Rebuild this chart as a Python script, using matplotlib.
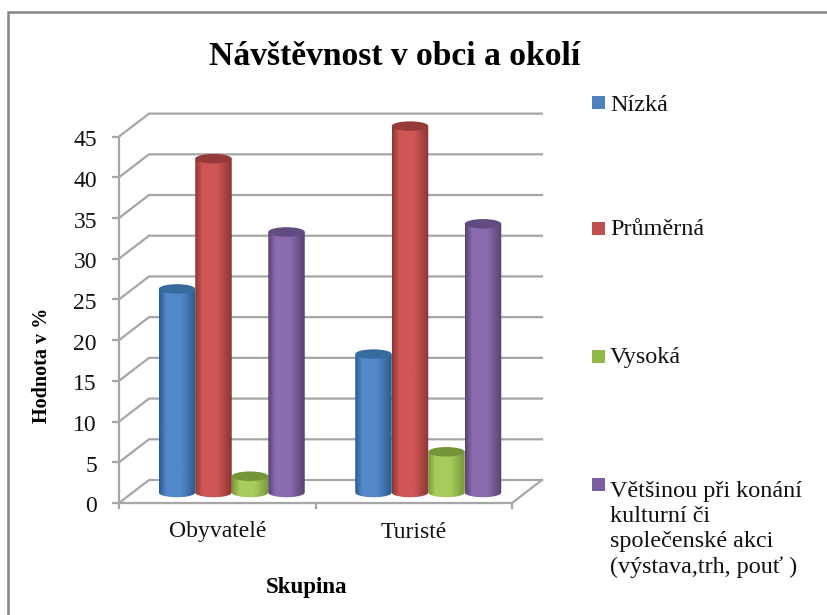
import numpy as np
import matplotlib
matplotlib.use("Agg")
import matplotlib.pyplot as plt
from matplotlib.patches import Ellipse, PathPatch, Rectangle
from matplotlib.path import Path
from matplotlib.colors import LinearSegmentedColormap

categories = ["Obyvatelé", "Turisté"]
series_names = ["Nízká", "Průměrná", "Vysoká",
                "Většinou při konání\nkulturní či\nspolečenské akci\n(výstava,trh, pouť )"]
nizka = [25, 17]
prumerna = [41, 45]
vysoka = [2, 5]
vetsinou = [32, 33]
series = [nizka, prumerna, vysoka, vetsinou]
y_ticks = [0, 5, 10, 15, 20, 25, 30, 35, 40, 45]

# edge, centre, top colours
palette = [("#2c5a8c", "#5289cb", "#376a9e"),
           ("#8a3634", "#cf5654", "#953a38"),
           ("#78973a", "#a9cc5e", "#76953a"),
           ("#57426f", "#8a6bb0", "#624b80")]
legend_colors = ["#4f81bd", "#c0504d", "#93b84a", "#7c5fa0"]

W, H = 827, 615
FONT = "Liberation Serif"
GRID = "#a6a6a6"
TXT = 17
fig = plt.figure(figsize=(W / 100, H / 100), dpi=100)
fig.patch.set_facecolor("white")

# the axes box is the front plane of the 3-D chart
ax = fig.add_axes([119 / W, 1 - 503 / H, (512 - 119) / W, (503 - 136.6) / H])
ax.set_xlim(0, 2)
ax.set_ylim(0, 45)
ax.axis("off")

px_x = 2 / (512 - 119)
px_y = 45 / (503 - 136.6)
depth_x = 30 * px_x
depth_y = 23 * px_y

# frame
fig.add_artist(Rectangle((7.5 / W, -0.01), (W - 2) / W, 1 - 11.5 / H + 0.01,
                         transform=fig.transFigure, fill=False, ec="#868686", lw=1.8))

# grid on the wall and the floor
LW = 1.6
for v in y_ticks:
    ax.plot([0, depth_x, 2 + depth_x], [v, v + depth_y, v + depth_y],
            color=GRID, lw=LW, clip_on=False, zorder=1, solid_joinstyle="miter")
    ax.plot([-6 * px_x, 0], [v, v], color=GRID, lw=LW, clip_on=False, zorder=1)
    ax.text(-22 * px_x, v - 1.5 * px_y, str(v), ha="right", va="center_baseline", family=FONT,
            fontsize=TXT, color="#111111")
ax.plot([0, 0], [0, 45], color=GRID, lw=LW, clip_on=False, zorder=1)
ax.plot([0, 2, 2 + depth_x], [0, 0, depth_y], color=GRID, lw=LW, clip_on=False,
        zorder=1, solid_joinstyle="miter")
for c in [0, 1, 2]:
    ax.plot([c, c], [0, -5 * px_y], color=GRID, lw=LW, clip_on=False, zorder=1)

# cylinders
bar_w = 36.5 * px_x
shift_x = 14.5 * px_x
base = 10.5 * px_y
ell_h = 9.5 * px_y
for i, (vals, (edge, centre, top)) in enumerate(zip(series, palette)):
    cmap = LinearSegmentedColormap.from_list(
        "c", [(0, edge), (0.2, centre), (0.6, centre), (1, edge)])
    for c, v in enumerate(vals):
        cx = c + 0.5 + shift_x + (i - 1.5) * bar_w
        x0, x1 = cx - bar_w / 2, cx + bar_w / 2
        y_top = base + v
        t = np.linspace(np.pi, 2 * np.pi, 40)
        xs = cx + bar_w / 2 * np.cos(t)
        ys = base + ell_h / 2 * np.sin(t)
        verts = [(x0, y_top)] + list(zip(xs, ys)) + [(x1, y_top), (x0, y_top)]
        zo = 3 + i
        im = ax.imshow(np.linspace(0, 1, 128)[None, :], cmap=cmap, aspect="auto",
                       extent=[x0, x1, 0, y_top], zorder=zo, interpolation="bilinear")
        patch = PathPatch(Path(verts), fc="none", ec="none", transform=ax.transData,
                          clip_on=False)
        ax.add_patch(patch)
        im.set_clip_box(fig.bbox)
        im.set_clip_path(patch)
        ax.add_patch(Ellipse((cx, y_top), bar_w, ell_h, fc=top, ec="none", zorder=zo + 0.5,
                             clip_on=False))
ax.set_xlim(0, 2)
ax.set_ylim(0, 45)

# labels
for c, name in enumerate(categories):
    ax.text(c + 0.5, -29 * px_y, name, ha="center", va="center", family=FONT,
            fontsize=TXT, color="#111111")
fig.text(209 / W, 1 - 65 / H, "Návštěvnost v obci a okolí", ha="left", va="baseline",
         family=FONT, fontsize=24.2, fontweight="bold", color="black")
fig.text(307 / W, 1 - 587 / H, "Skupina", ha="center", va="center", family=FONT,
         fontsize=16.5, fontweight="bold", color="black")
fig.text(42 / W, 1 - 365 / H, "Hodnota v %", rotation=90, ha="center", va="center",
         family=FONT, fontsize=14.5, fontweight="bold", color="black")

# legend
leg_base = [111, 235, 363, 573]
leg_box = [102, 228.5, 356, 484]
for name, col, yb, ys in zip(series_names, legend_colors, leg_base, leg_box):
    fig.add_artist(Rectangle((592 / W, 1 - (ys + 6.5) / H), 13 / W, 13 / H,
                             transform=fig.transFigure, fc=col, ec="none"))
    fig.text(610 / W, 1 - yb / H, name, ha="left", va="baseline", family=FONT,
             fontsize=17.4, color="#111111", linespacing=1.25)

fig.savefig("out.png", dpi=100)
